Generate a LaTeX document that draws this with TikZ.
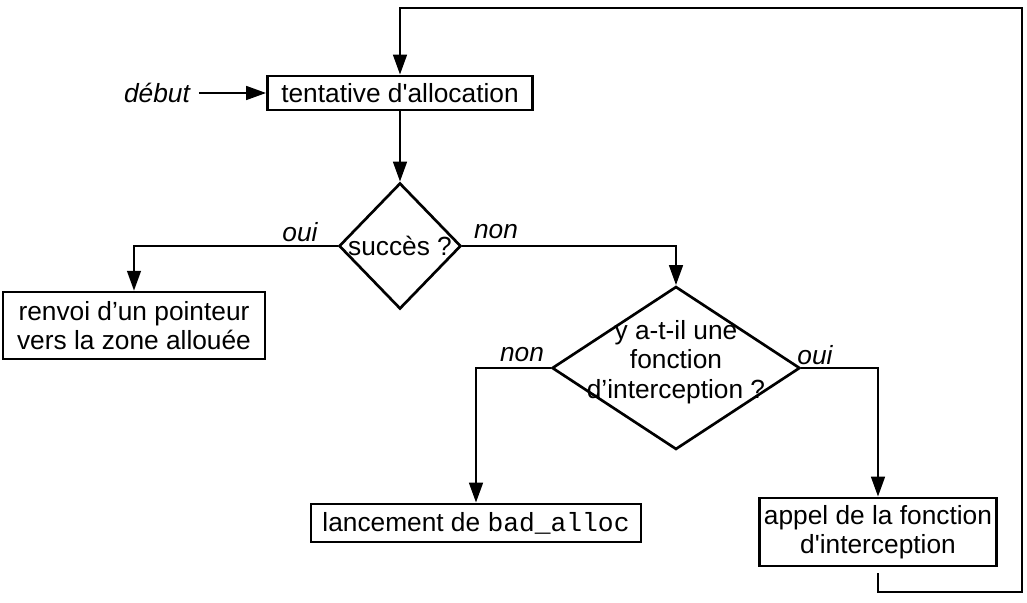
\documentclass[tikz,border=0pt]{standalone}
\usepackage{fontspec}
\setmainfont{Liberation Sans}
\setmonofont{Liberation Mono}
\usepackage{tikz}
\usetikzlibrary{positioning,arrows.meta,shapes.geometric,calc}

\begin{document}
\begin{tikzpicture}[
  font=\fontsize{18.7}{21}\selectfont,
  every node/.style={align=center},
  box/.style={rectangle, draw=black, line width=1.9pt, inner sep=0pt,
    fill=white},
  decision/.style={diamond, draw=black, line width=1.9pt, inner sep=0pt,
    minimum width=3.05cm, minimum height=3.15cm},
  lbl/.style={font=\fontsize{18.7}{21}\selectfont\itshape, inner sep=0pt},
  arr/.style={-{Triangle[length=0.5cm, width=0.34cm]}, line width=1.9pt},
  wire/.style={line width=1.9pt}
]
\useasboundingbox (0,0) rectangle (25.675,-15.075);

\node[lbl] (debut) at (3.925,-2.325) {début};
\node[box, minimum width=6.625cm, minimum height=0.85cm] (tent) at (10.0,-2.325)
  {tentative d\textquotesingle allocation};
\draw[arr] ($(debut.east)+(0.22,0)$) -- (tent.west);

\node[decision, label={[font=\fontsize{18.7}{21}\selectfont]center:succès ?}] (succ) at (10.0,-6.15) {};
\draw[arr] (tent.south) -- (succ.north);

\node[box, minimum width=6.55cm, minimum height=1.675cm] (renvoi) at (3.35,-8.14)
  {renvoi d’un pointeur\\vers la zone allouée};
\node[lbl] (oui1) at (7.5,-5.8) {oui};
\draw[arr] (succ.west) -| (renvoi.north);

\node[lbl] (non1) at (12.4,-5.8) {non};
\node[decision, minimum width=6.2cm, minimum height=4.075cm,
  label={[align=center, yshift=0.15cm, font=\fontsize{18.7}{21}\selectfont]center:y a-t-il une\\fonction\\d’interception ?}] (inter) at (16.9,-9.2) {};
\draw[arr] (succ.east) -| (inter.north);

\node[lbl] (non2) at (13.05,-8.875) {non};
\node[box, minimum width=8.25cm, minimum height=0.95cm] (lance) at (11.9,-13.075)
  {lancement de \texttt{bad\_alloc}};
\draw[arr] (inter.west) -| (lance.north);

\node[lbl] (oui2) at (20.375,-8.875) {oui};
\node[box, minimum width=5.925cm, minimum height=1.7cm] (appel) at (21.95,-13.3)
  {appel de la fonction\\d\textquotesingle interception};
\draw[arr] (inter.east) -| (appel.north);

% retour vers la tentative
\coordinate (bas) at (25.55,-14.8);
\coordinate (haut) at (25.55,-0.2);
\draw[arr] ($(appel.south)+(0,-0.15)$) |- (bas) -- (haut) -| (tent.north);

\end{tikzpicture}
\end{document}
